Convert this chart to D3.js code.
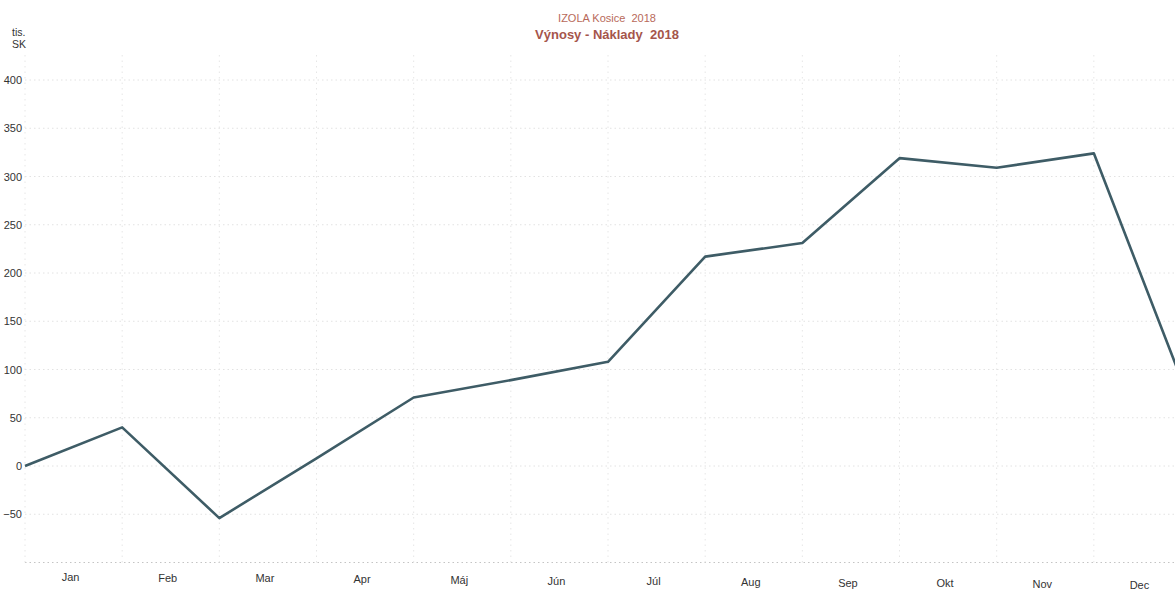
<!DOCTYPE html>
<html>
<head>
<meta charset="utf-8">
<script src="https://cdn.jsdelivr.net/npm/d3@7/dist/d3.min.js"></script>
<style>
  html, body { margin: 0; padding: 0; background: #fff; }
  svg { display: block; font-family: "Liberation Sans", Arial, sans-serif; }
  text { white-space: pre; }
</style>
</head>
<body>
<svg id="chart" width="1175" height="590"></svg>
<script>
// ---- data ----
const months = ["Jan", "Feb", "Mar", "Apr", "Máj", "Jún", "Júl", "Aug", "Sep", "Okt", "Nov", "Dec"];
// cumulative value at month boundaries (start of Jan, then end of each month)
const boundaryIndex = [0, 1, 2, 3, 4, 5, 6, 7, 8, 9, 10, 11, 12];
const values = [0, 40, -54, 8, 71, 89, 108, 217, 231, 319, 309, 324, 64];
const yTicks = [-50, 0, 50, 100, 150, 200, 250, 300, 350, 400];
const gridValues = [-100, -50, 0, 50, 100, 150, 200, 250, 300, 350, 400];
const titleTop = "IZOLA Kosice  2018";
const titleMain = "Výnosy - Náklady  2018";
const unitLines = ["tis.", "SK"];

(function () {
// ---- layout ----
const svg = d3.select("#chart");
const H = 590;
const plotLeft = 25, plotRight = 1175, plotTop = 55, plotBottom = 564;

const x = d3.scaleLinear().domain([0, 12]).range([25, 1191]);
const y = d3.scaleLinear().domain([-100, 400]).range([562.5, 80]);

// clip
svg.append("defs").append("clipPath").attr("id", "clip")
  .append("rect").attr("x", 0).attr("y", 0).attr("width", plotRight).attr("height", H);

// horizontal grid
svg.append("g").selectAll("line").data(gridValues).join("line")
  .attr("x1", plotLeft).attr("x2", plotRight)
  .attr("y1", d => y(d)).attr("y2", d => y(d))
  .attr("stroke", d => d === -100 ? "#c4c4c4" : "#e2e2e2")
  .attr("stroke-width", 1)
  .attr("stroke-dasharray", "1.5,3");

// vertical grid at month boundaries
svg.append("g").selectAll("line").data(boundaryIndex.filter(i => i > 0 && x(i) < plotRight)).join("line")
  .attr("x1", d => x(d)).attr("x2", d => x(d))
  .attr("y1", plotTop).attr("y2", plotBottom)
  .attr("stroke", "#e6e6e6")
  .attr("stroke-width", 1)
  .attr("stroke-dasharray", "1.5,4");

// left axis (faint dotted)
svg.append("line")
  .attr("x1", plotLeft).attr("x2", plotLeft).attr("y1", plotTop).attr("y2", plotBottom)
  .attr("stroke", "#e6e6e6").attr("stroke-dasharray", "1.5,4");

// y axis labels
const yAxis = d3.axisLeft(y).tickValues(yTicks).tickSize(0).tickPadding(3);
const gy = svg.append("g").attr("transform", `translate(${plotLeft},0)`).call(yAxis);
gy.select(".domain").remove();
gy.selectAll("text")
  .attr("font-family", "Liberation Sans, Arial, sans-serif")
  .attr("font-size", 11)
  .attr("fill", "#333");

// unit label
svg.append("g").selectAll("text").data(unitLines).join("text")
  .attr("x", 12).attr("y", (d, i) => 36 + i * 12)
  .attr("font-size", 10.5).attr("fill", "#333")
  .text(d => d);

// x axis labels (centered between boundaries, scan slightly skewed)
svg.append("g").selectAll("text").data(months).join("text")
  .attr("x", (d, i) => x(i + 0.5) - 3)
  .attr("y", (d, i) => 581 + i * 0.7)
  .attr("text-anchor", "middle")
  .attr("font-size", 11).attr("fill", "#333")
  .text(d => d);

// line
const line = d3.line().x((d, i) => x(boundaryIndex[i])).y(d => y(d));
svg.append("path")
  .datum(values)
  .attr("clip-path", "url(#clip)")
  .attr("d", line)
  .attr("fill", "none")
  .attr("stroke", "#3e5c66")
  .attr("stroke-width", 2.6)
  .attr("stroke-linejoin", "round");

// titles
svg.append("text").attr("x", 607).attr("y", 22)
  .attr("text-anchor", "middle").attr("font-size", 11)
  .attr("fill", "#b8695a").text(titleTop);
svg.append("text").attr("x", 607).attr("y", 39)
  .attr("text-anchor", "middle").attr("font-size", 13).attr("font-weight", "bold")
  .attr("fill", "#a5554b").text(titleMain);
})();
</script>
</body>
</html>
